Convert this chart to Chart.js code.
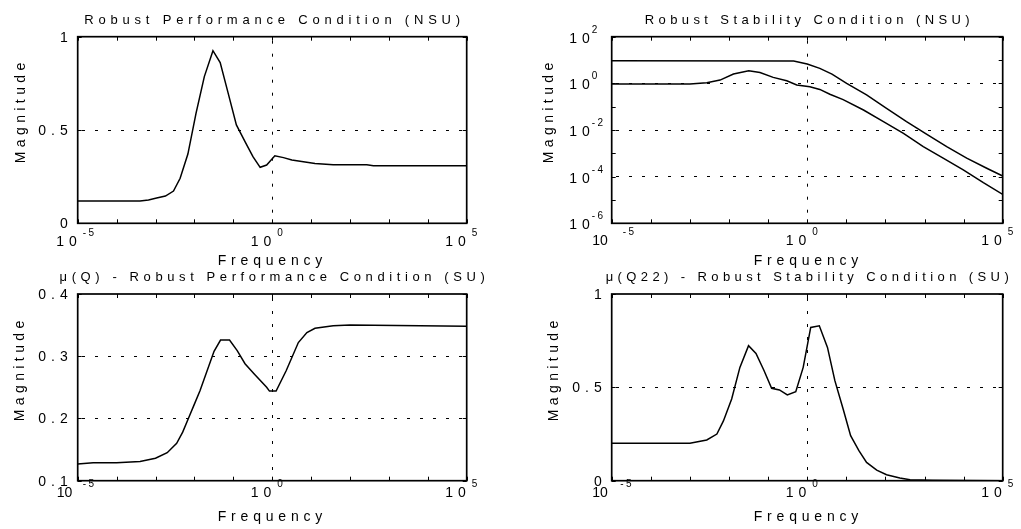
<!DOCTYPE html>
<html>
<head>
<meta charset="utf-8">
<script src="https://cdn.jsdelivr.net/npm/chart.js@4.4.1/dist/chart.umd.min.js"></script>
<style>
  body { margin: 0; background: #fff; }
  #wrap { position: relative; width: 1021px; height: 529px; overflow: hidden; background: #fff; }
  #wrap canvas { position: absolute; left: 0; top: 0; }
</style>
</head>
<body>
<div id="wrap">
  <canvas id="rpNsu" width="1021" height="529"></canvas>
  <canvas id="rsNsu" width="1021" height="529"></canvas>
  <canvas id="muQ" width="1021" height="529"></canvas>
  <canvas id="muQ22" width="1021" height="529"></canvas>
</div>
<script>
// ---- data ----
// Robust Performance Condition (NSU)
const rpNsuFreq = [1e-5, 4e-4, 6.6e-4, 1.07e-3, 1.8e-3, 2.9e-3, 4.3e-3, 6.8e-3, 0.011, 0.018, 0.03, 0.046, 0.074, 0.12, 0.2, 0.32, 0.49, 0.72, 1.17, 1.95, 3.2, 12.6, 37, 270, 400, 1e5];
const rpNsuMag = [0.12, 0.12, 0.125, 0.136, 0.146, 0.173, 0.241, 0.371, 0.589, 0.786, 0.925, 0.861, 0.696, 0.527, 0.438, 0.357, 0.30, 0.312, 0.362, 0.352, 0.339, 0.321, 0.314, 0.314, 0.309, 0.309];

// Robust Stability Condition (NSU) - two curves
const rsUpperFreq = [1e-5, 0.45, 1, 2.1, 4.3, 10.2, 33, 107, 347, 1150, 3700, 1.2e4, 3.9e4, 1e5];
const rsUpperMag = [9.3, 9.1, 6.8, 4.4, 2.5, 1.0, 0.32, 0.085, 0.023, 6.5e-3, 1.95e-3, 6.2e-4, 2.3e-4, 1.07e-4];
const rsLowerFreq = [1e-5, 1e-3, 2.7e-3, 5.9e-3, 0.013, 0.032, 0.062, 0.135, 0.3, 0.54, 1.17, 2.1, 3.8, 8.3, 27.5, 89, 290, 930, 3000, 9800, 3.2e4, 1e5];
const rsLowerMag = [0.93, 0.93, 1.07, 1.38, 2.5, 3.5, 2.9, 1.8, 1.3, 0.85, 0.72, 0.55, 0.34, 0.2, 0.072, 0.023, 7.2e-3, 1.95e-3, 6.2e-4, 1.95e-4, 5.5e-5, 1.74e-5];

// mu(Q) - Robust Performance Condition (SU)
const muQFreq = [1e-5, 2.5e-5, 1e-4, 4e-4, 1e-3, 2e-3, 3.5e-3, 5e-3, 7e-3, 0.01, 0.014, 0.032, 0.047, 0.08, 0.126, 0.2, 0.35, 0.72, 0.85, 1.26, 2.3, 4.7, 7.8, 12.6, 37, 100, 1e5];
const muQMag = [0.127, 0.129, 0.129, 0.131, 0.136, 0.145, 0.16, 0.178, 0.2, 0.223, 0.245, 0.308, 0.326, 0.326, 0.309, 0.288, 0.271, 0.25, 0.244, 0.244, 0.277, 0.322, 0.338, 0.345, 0.349, 0.35, 0.348];

// mu(Q22) - Robust Stability Condition (SU)
const muQ22Freq = [1e-5, 1e-3, 2.7e-3, 4.9e-3, 7.2e-3, 0.0117, 0.019, 0.0316, 0.049, 0.079, 0.123, 0.195, 0.31, 0.51, 0.79, 1.23, 2.04, 3.3, 5.1, 8.3, 12.9, 21, 33, 60, 107, 234, 427, 1585, 1e5];
const muQ22Mag = [0.2, 0.2, 0.218, 0.25, 0.32, 0.438, 0.607, 0.723, 0.682, 0.589, 0.495, 0.486, 0.459, 0.477, 0.607, 0.821, 0.83, 0.714, 0.536, 0.384, 0.241, 0.161, 0.098, 0.057, 0.032, 0.014, 0.005, 0.002, 0];

// ticks and labels
const decadeTicks = [1e-5, 1e-4, 1e-3, 1e-2, 1e-1, 1, 1e1, 1e2, 1e3, 1e4, 1e5];
const xLabelValues = [1e-5, 1, 1e5];
const xLabelExps = ['-5', '0', '5'];
const xGridValues = [1];

const rsYTicks = [1e2, 1e1, 1, 1e-1, 1e-2, 1e-3, 1e-4, 1e-5, 1e-6];
const rsYLabelValues = [1e2, 1, 1e-2, 1e-4, 1e-6];
const rsYLabelExps = ['2', '0', '-2', '-4', '-6'];
const rsYGrid = [1, 1e-2, 1e-4];

const rpYTicks = [0, 0.5, 1];
const rpYLabels = ['0', '0.5', '1'];
const rpYGrid = [0.5];

const muQYTicks = [0.1, 0.2, 0.3, 0.4];
const muQYLabels = ['0.1', '0.2', '0.3', '0.4'];
const muQYGrid = [0.2, 0.3];

const muQ22YTicks = [0, 0.5, 1];
const muQ22YLabels = ['0', '0.5', '1'];
const muQ22YGrid = [0.5];

// ---- drawing ----
const W = 1021, H = 529;
const FONT = '"Liberation Sans", Arial, Helvetica, sans-serif';

function toPoints(xs, ys) {
    return xs.map((x, i) => ({ x: x, y: ys[i] }));
}

// text with extra space between letters, drawn char by char
function spacedWidth(ctx, text, sp) {
    let w = 0;
    for (const ch of text) w += ctx.measureText(ch).width;
    return w + sp * (text.length - 1);
}
function drawSpaced(ctx, text, x, y, sp, align) {
    const w = spacedWidth(ctx, text, sp);
    let cx = x;
    if (align === 'center') cx = x - w / 2;
    else if (align === 'right') cx = x - w;
    ctx.textAlign = 'left';
    for (const ch of text) {
        ctx.fillText(ch, cx, y);
        cx += ctx.measureText(ch).width + sp;
    }
    return w;
}

function framePlugin(cfg) {
    return {
        id: 'frame',
        afterDraw(chart) {
            const ctx = chart.ctx;
            const a = chart.chartArea;
            const xs = chart.scales.x, ys = chart.scales.y;
            ctx.save();
            ctx.strokeStyle = '#000';
            ctx.fillStyle = '#000';

            // inward tick marks on all four sides
            ctx.lineWidth = 1;
            ctx.beginPath();
            decadeTicks.forEach(v => {
                const px = Math.round(xs.getPixelForValue(v)) + 0.5;
                ctx.moveTo(px, a.top); ctx.lineTo(px, a.top + 4);
                ctx.moveTo(px, a.bottom); ctx.lineTo(px, a.bottom - 4);
            });
            cfg.yTicks.forEach(v => {
                const py = Math.round(ys.getPixelForValue(v)) + 0.5;
                ctx.moveTo(a.left, py); ctx.lineTo(a.left + 4, py);
                ctx.moveTo(a.right, py); ctx.lineTo(a.right - 4, py);
            });
            ctx.stroke();

            // box
            ctx.lineWidth = 1.7;
            ctx.strokeRect(a.left, a.top, a.right - a.left, a.bottom - a.top);

            ctx.textBaseline = 'alphabetic';

            // title
            ctx.font = '13px ' + FONT;
            drawSpaced(ctx, cfg.title, (a.left + a.right) / 2, a.top - 13, cfg.titleSp, 'center');

            // x axis label
            ctx.font = '14px ' + FONT;
            drawSpaced(ctx, 'Frequency', cfg.freqX, cfg.freqY, 4.8, 'center');

            // y axis label
            ctx.save();
            ctx.translate(cfg.magX, cfg.magY);
            ctx.rotate(-Math.PI / 2);
            drawSpaced(ctx, 'Magnitude', 0, 0, 4.4, 'center');
            ctx.restore();

            // x tick labels: 10 with raised exponent
            xLabelValues.forEach((v, i) => {
                const px = xs.getPixelForValue(v);
                const tight = i === 0 && cfg.tightFirst;
                ctx.font = '14px ' + FONT;
                if (tight) {
                    drawSpaced(ctx, '10', px + cfg.tightBase, cfg.xBaseY, 0, 'right');
                    ctx.font = '10px ' + FONT;
                    drawSpaced(ctx, xLabelExps[i], px + cfg.tightExp, cfg.xExpY, 2.5, 'left');
                } else {
                    drawSpaced(ctx, '10', px - 1, cfg.xBaseY, 5, 'right');
                    ctx.font = '10px ' + FONT;
                    drawSpaced(ctx, xLabelExps[i], px + 5, cfg.xExpY, 2.5, 'left');
                }
            });

            // y tick labels
            if (cfg.yExps) {
                cfg.yLabelValues.forEach((v, i) => {
                    const py = ys.getPixelForValue(v);
                    ctx.font = '14px ' + FONT;
                    drawSpaced(ctx, '10', a.left - 22, py + 6, 5, 'right');
                    ctx.font = '10px ' + FONT;
                    drawSpaced(ctx, cfg.yExps[i], a.left - 20, py - 4, 2.5, 'left');
                });
            } else {
                ctx.font = '14px ' + FONT;
                cfg.yTicks.forEach((v, i) => {
                    const py = ys.getPixelForValue(v);
                    drawSpaced(ctx, cfg.yLabels[i], a.left - 10, py + 5, 5, 'right');
                });
            }
            ctx.restore();
        }
    };
}

function makePanel(id, cfg) {
    const a = cfg.area;
    const gridColor = list => c => (c.tick && list.indexOf(c.tick.value) >= 0) ? '#000' : 'rgba(0,0,0,0)';
    return new Chart(document.getElementById(id), {
        type: 'line',
        data: {
            datasets: cfg.series.map(s => ({
                data: s,
                borderColor: '#000',
                borderWidth: 1.5,
                pointRadius: 0,
                fill: false,
                tension: 0
            }))
        },
        options: {
            responsive: false,
            animation: false,
            events: [],
            layout: { padding: { left: a.left, top: a.top, right: W - a.right, bottom: H - a.bottom } },
            plugins: { legend: { display: false }, tooltip: { enabled: false }, title: { display: false } },
            scales: {
                x: {
                    type: 'logarithmic',
                    min: 1e-5,
                    max: 1e5,
                    afterBuildTicks: s => { s.ticks = decadeTicks.map(v => ({ value: v })); },
                    ticks: { display: false },
                    grid: { drawTicks: false, tickLength: 0, lineWidth: 1, color: gridColor(xGridValues) },
                    border: { display: false, dash: [3, 10], dashOffset: 9 }
                },
                y: {
                    type: cfg.yType,
                    min: cfg.yMin,
                    max: cfg.yMax,
                    afterBuildTicks: s => { s.ticks = cfg.yTicks.map(v => ({ value: v })); },
                    ticks: { display: false },
                    grid: { drawTicks: false, tickLength: 0, lineWidth: 1, color: gridColor(cfg.yGrid) },
                    border: { display: false, dash: [3, 10], dashOffset: 9 }
                }
            }
        },
        plugins: [framePlugin(cfg)]
    });
}

makePanel('rpNsu', {
    area: { left: 77.7, top: 36.7, right: 466.7, bottom: 223.3 },
    title: 'Robust Performance Condition (NSU)', titleSp: 4.8,
    series: [toPoints(rpNsuFreq, rpNsuMag)],
    yType: 'linear', yMin: 0, yMax: 1,
    yTicks: rpYTicks, yLabels: rpYLabels, yGrid: rpYGrid,
    freqX: 270, freqY: 265, magX: 25, magY: 113,
    xBaseY: 246, xExpY: 236, tightFirst: false
});

makePanel('rsNsu', {
    area: { left: 611.7, top: 36.7, right: 1002.7, bottom: 223.3 },
    title: 'Robust Stability Condition (NSU)', titleSp: 4.4,
    series: [toPoints(rsUpperFreq, rsUpperMag), toPoints(rsLowerFreq, rsLowerMag)],
    yType: 'logarithmic', yMin: 1e-6, yMax: 1e2,
    yTicks: rsYTicks, yLabelValues: rsYLabelValues, yExps: rsYLabelExps, yGrid: rsYGrid,
    freqX: 806, freqY: 265, magX: 553, magY: 113,
    xBaseY: 245, xExpY: 235, tightFirst: true, tightBase: -4, tightExp: 11
});

makePanel('muQ', {
    area: { left: 77.7, top: 294, right: 466.7, bottom: 480.7 },
    title: 'μ(Q) - Robust Performance Condition (SU)', titleSp: 4.6,
    series: [toPoints(muQFreq, muQMag)],
    yType: 'linear', yMin: 0.1, yMax: 0.4,
    yTicks: muQYTicks, yLabels: muQYLabels, yGrid: muQYGrid,
    freqX: 270, freqY: 521, magX: 24, magY: 371,
    xBaseY: 497, xExpY: 487, tightFirst: true, tightBase: -5.5, tightExp: 5
});

makePanel('muQ22', {
    area: { left: 611.7, top: 294, right: 1002.7, bottom: 480.7 },
    title: 'μ(Q22) - Robust Stability Condition (SU)', titleSp: 4.4,
    series: [toPoints(muQ22Freq, muQ22Mag)],
    yType: 'linear', yMin: 0, yMax: 1,
    yTicks: muQ22YTicks, yLabels: muQ22YLabels, yGrid: muQ22YGrid,
    freqX: 806, freqY: 521, magX: 558, magY: 371,
    xBaseY: 497, xExpY: 487, tightFirst: true, tightBase: -4, tightExp: 8.5
});
</script>
</body>
</html>
